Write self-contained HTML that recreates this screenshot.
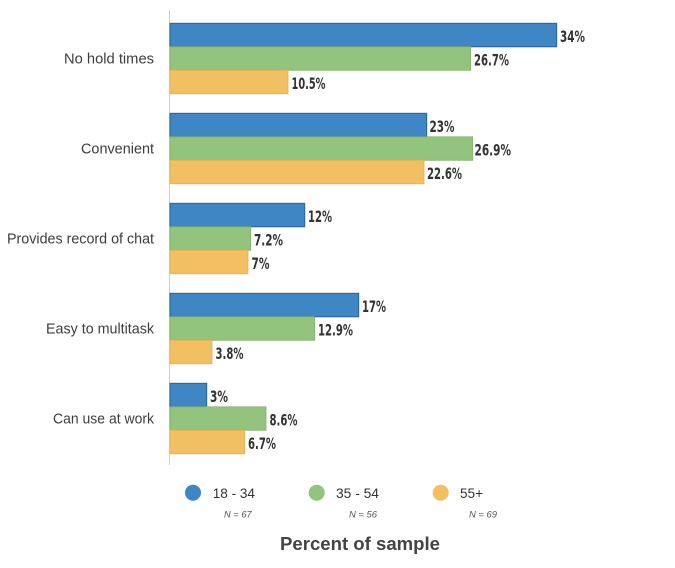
<!DOCTYPE html>
<html><head><meta charset="utf-8"><style>
html,body{margin:0;padding:0;background:#fff;}
svg{display:block;}
.cat{font-family:"Liberation Sans",sans-serif;font-size:14.5px;fill:#3d3d3d;}
.val{font-family:"Liberation Sans Narrow","DejaVu Sans Condensed","Liberation Sans",sans-serif;font-weight:bold;font-size:16px;fill:#333;}
.leg{font-family:"Liberation Sans",sans-serif;font-size:14px;fill:#333;}
.n{font-family:"Liberation Sans",sans-serif;font-style:italic;font-size:9.5px;fill:#555;}
.ttl{font-family:"Liberation Sans",sans-serif;font-weight:bold;font-size:18px;fill:#444;}
</style></head><body>
<svg width="675" height="568" viewBox="0 0 675 568" xmlns="http://www.w3.org/2000/svg">
<line x1="169.5" y1="10" x2="169.5" y2="465" stroke="#cfcfcf" stroke-width="1"/>
<!-- Group 1 -->
<rect x="170" y="23.3" width="386.7" height="23.5" fill="#3f86c4" stroke="#2b639a" stroke-width="1"/>
<rect x="170" y="46.8" width="300.7" height="23.5" fill="#93c47d" stroke="#82b36c" stroke-width="0.8"/>
<rect x="170" y="70.3" width="118" height="23.5" fill="#f2c063" stroke="#e3b055" stroke-width="0.8"/>
<!-- Group 2 -->
<rect x="170" y="113.3" width="256.7" height="23.5" fill="#3f86c4" stroke="#2b639a" stroke-width="1"/>
<rect x="170" y="136.8" width="302.7" height="23.5" fill="#93c47d" stroke="#82b36c" stroke-width="0.8"/>
<rect x="170" y="160.3" width="254" height="23.5" fill="#f2c063" stroke="#e3b055" stroke-width="0.8"/>
<!-- Group 3 -->
<rect x="170" y="203.3" width="134.7" height="23.5" fill="#3f86c4" stroke="#2b639a" stroke-width="1"/>
<rect x="170" y="226.8" width="80.7" height="23.5" fill="#93c47d" stroke="#82b36c" stroke-width="0.8"/>
<rect x="170" y="250.3" width="78" height="23.5" fill="#f2c063" stroke="#e3b055" stroke-width="0.8"/>
<!-- Group 4 -->
<rect x="170" y="293.3" width="188.7" height="23.5" fill="#3f86c4" stroke="#2b639a" stroke-width="1"/>
<rect x="170" y="316.8" width="144.7" height="23.5" fill="#93c47d" stroke="#82b36c" stroke-width="0.8"/>
<rect x="170" y="340.3" width="42" height="23.5" fill="#f2c063" stroke="#e3b055" stroke-width="0.8"/>
<!-- Group 5 -->
<rect x="170" y="383.3" width="36.7" height="23.5" fill="#3f86c4" stroke="#2b639a" stroke-width="1"/>
<rect x="170" y="406.8" width="96" height="23.5" fill="#93c47d" stroke="#82b36c" stroke-width="0.8"/>
<rect x="170" y="430.3" width="74.7" height="23.5" fill="#f2c063" stroke="#e3b055" stroke-width="0.8"/>

<!-- Category labels -->
<text class="cat" x="154" y="63.5" text-anchor="end" textLength="90" lengthAdjust="spacingAndGlyphs">No hold times</text>
<text class="cat" x="154" y="153.5" text-anchor="end" textLength="73" lengthAdjust="spacingAndGlyphs">Convenient</text>
<text class="cat" x="154" y="243.5" text-anchor="end" textLength="147" lengthAdjust="spacingAndGlyphs">Provides record of chat</text>
<text class="cat" x="154" y="333.5" text-anchor="end" textLength="108" lengthAdjust="spacingAndGlyphs">Easy to multitask</text>
<text class="cat" x="154" y="423.5" text-anchor="end" textLength="101" lengthAdjust="spacingAndGlyphs">Can use at work</text>

<!-- Value labels -->
<text class="val" x="560" y="41.8" textLength="25" lengthAdjust="spacingAndGlyphs">34%</text>
<text class="val" x="474" y="65.3" textLength="35" lengthAdjust="spacingAndGlyphs">26.7%</text>
<text class="val" x="291.5" y="88.8" textLength="34" lengthAdjust="spacingAndGlyphs">10.5%</text>

<text class="val" x="429.5" y="131.8" textLength="25" lengthAdjust="spacingAndGlyphs">23%</text>
<text class="val" x="474.5" y="155.3" textLength="36.5" lengthAdjust="spacingAndGlyphs">26.9%</text>
<text class="val" x="427" y="178.8" textLength="35" lengthAdjust="spacingAndGlyphs">22.6%</text>

<text class="val" x="308" y="221.8" textLength="24" lengthAdjust="spacingAndGlyphs">12%</text>
<text class="val" x="254" y="245.3" textLength="29" lengthAdjust="spacingAndGlyphs">7.2%</text>
<text class="val" x="251.5" y="268.8" textLength="18" lengthAdjust="spacingAndGlyphs">7%</text>

<text class="val" x="362" y="311.8" textLength="24" lengthAdjust="spacingAndGlyphs">17%</text>
<text class="val" x="318" y="335.3" textLength="35" lengthAdjust="spacingAndGlyphs">12.9%</text>
<text class="val" x="215.5" y="358.8" textLength="28" lengthAdjust="spacingAndGlyphs">3.8%</text>

<text class="val" x="210" y="401.8" textLength="18" lengthAdjust="spacingAndGlyphs">3%</text>
<text class="val" x="269.5" y="425.3" textLength="28" lengthAdjust="spacingAndGlyphs">8.6%</text>
<text class="val" x="248" y="448.8" textLength="28" lengthAdjust="spacingAndGlyphs">6.7%</text>

<!-- Legend -->
<circle cx="193" cy="492.7" r="8" fill="#3f86c4"/>
<text class="leg" x="212.7" y="498" textLength="42.3" lengthAdjust="spacingAndGlyphs">18 - 34</text>
<circle cx="316.7" cy="492.7" r="8" fill="#93c47d"/>
<text class="leg" x="336" y="498" textLength="43" lengthAdjust="spacingAndGlyphs">35 - 54</text>
<circle cx="440.7" cy="492.7" r="8" fill="#f2c063"/>
<text class="leg" x="460" y="498" textLength="23" lengthAdjust="spacingAndGlyphs">55+</text>

<text class="n" x="224" y="517.5" textLength="27.7" lengthAdjust="spacingAndGlyphs">N = 67</text>
<text class="n" x="349" y="517.5" textLength="28" lengthAdjust="spacingAndGlyphs">N = 56</text>
<text class="n" x="469" y="517.5" textLength="28" lengthAdjust="spacingAndGlyphs">N = 69</text>

<text class="ttl" x="280" y="550" textLength="160" lengthAdjust="spacingAndGlyphs">Percent of sample</text>
</svg>
</body></html>
